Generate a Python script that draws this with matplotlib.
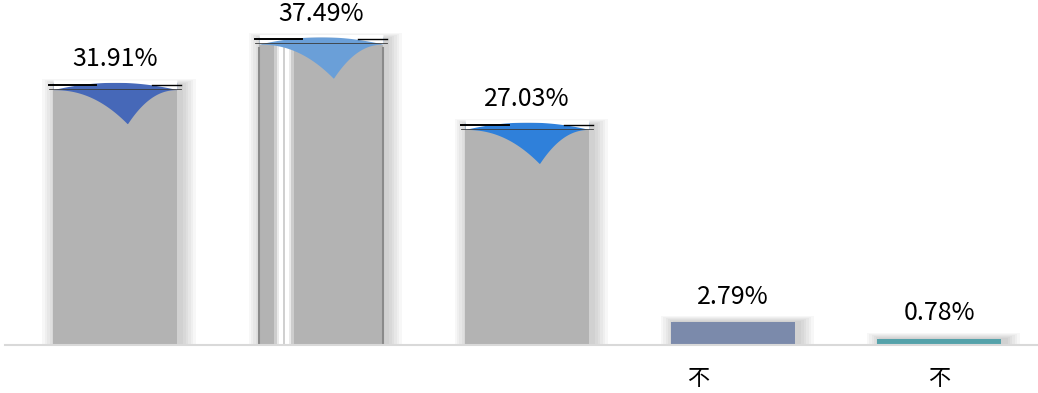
import numpy as np
import matplotlib.pyplot as plt
import matplotlib.transforms as mtransforms

# data
categories = ['', '', '', '不', '不']
values = [31.91, 37.49, 27.03, 2.79, 0.78]
labels = ['31.91%', '37.49%', '27.03%', '2.79%', '0.78%']
bar_colors = ['#b3b3b3', '#b3b3b3', '#b3b3b3', '#7b8aab', '#55a2aa']
cap_colors = ['#4668b8', '#6a9fd8', '#2f80da', None, None]

plt.rcParams['font.family'] = ['Noto Sans CJK SC', 'DejaVu Sans']

fig = plt.figure(figsize=(10.38, 3.93), dpi=100)
ax = fig.add_axes([5 / 1038, 48 / 393, 1 - 5 / 1038, 345 / 393])

x = np.arange(len(values))
width = 0.6

# soft shadow behind bars, leaning to the right
for xi, v in zip(x, values):
    for k in range(6):
        grow = 0.012 * (k + 1)
        ax.bar(xi + 0.02, v + grow * 10, width=width + grow * 2, color='#000000',
               alpha=0.03, zorder=1, linewidth=0)

bars = ax.bar(x, values, width=width, color=bar_colors, zorder=2, linewidth=0)

# the second bar has a light vertical streak and dark edges
b = bars[1]
for k, a in enumerate([0.35, 0.6, 1.0]):
    ax.bar(b.get_x() + b.get_width() * 0.2, b.get_height(),
           width=b.get_width() * (0.16 - 0.04 * k),
           color='white', alpha=a, zorder=3, linewidth=0)
ax.bar(b.get_x() + b.get_width() * 0.2, b.get_height(), width=b.get_width() * 0.012,
       color='#d0d0d0', zorder=3, linewidth=0)
for edge in (b.get_x(), b.get_x() + b.get_width()):
    ax.axvline(edge, ymax=b.get_height() / 42.3 * 0.97, color='#8a8a8a', lw=1.5, zorder=3)

# coloured cusp-shaped tops with a dark rim line
for bar, col in zip(bars, cap_colors):
    if col is None:
        continue
    left, w, top = bar.get_x(), bar.get_width(), bar.get_height()
    xs = np.linspace(left, left + w, 200)
    c = left + w * 0.6
    half = np.where(xs < c, c - left, left + w - c)
    t = np.clip(1 - np.abs(xs - c) / half, 0, 1)
    depth = 4.2 * t ** 2.2 + 0.6
    ax.fill_between(xs, top - depth, top + 0.3, color=col, zorder=4, linewidth=0)
    # white over the fill to show the rounded top
    dome = top + 0.3 - 0.9 * ((xs - (left + w / 2)) / (w / 2)) ** 2
    ax.fill_between(xs, dome, top + 0.6, color='white', zorder=5, linewidth=0)
    ax.plot([left - 0.02, left + w * 0.35], [top, top], color='black', lw=1.4, zorder=6)
    ax.plot([left + w * 0.8, left + w + 0.02], [top, top], color='black', lw=1.0, zorder=6)
    ax.plot([left - 0.02, left + w + 0.02], [top - 0.5, top - 0.5], color='#3a3a3a',
            lw=0.6, zorder=6)

for bar, lab in zip(bars, labels):
    ax.annotate(lab, (bar.get_x() + bar.get_width() / 2, bar.get_height()),
                xytext=(0, 9), textcoords='offset points', ha='center', va='bottom',
                fontsize=18, color='black', zorder=7)

ax.set_xlim(-0.534, 4.48)
ax.set_ylim(0, 42.3)
ax.set_xticks(x)
ax.set_xticklabels(categories, fontsize=16)
ax.tick_params(axis='x', length=0, pad=16)
# the fourth category label sits left of its bar centre in the original
lab4 = ax.get_xticklabels()[3]
lab4.set_transform(lab4.get_transform() +
                   mtransforms.ScaledTranslation(-0.35, 0, fig.dpi_scale_trans))
ax.set_yticks([])
for s in ['top', 'right', 'left']:
    ax.spines[s].set_visible(False)
ax.spines['bottom'].set_color('#d9d9d9')
ax.spines['bottom'].set_linewidth(1.5)
ax.spines['bottom'].set_zorder(8)

fig.savefig('out.png', dpi=100)
